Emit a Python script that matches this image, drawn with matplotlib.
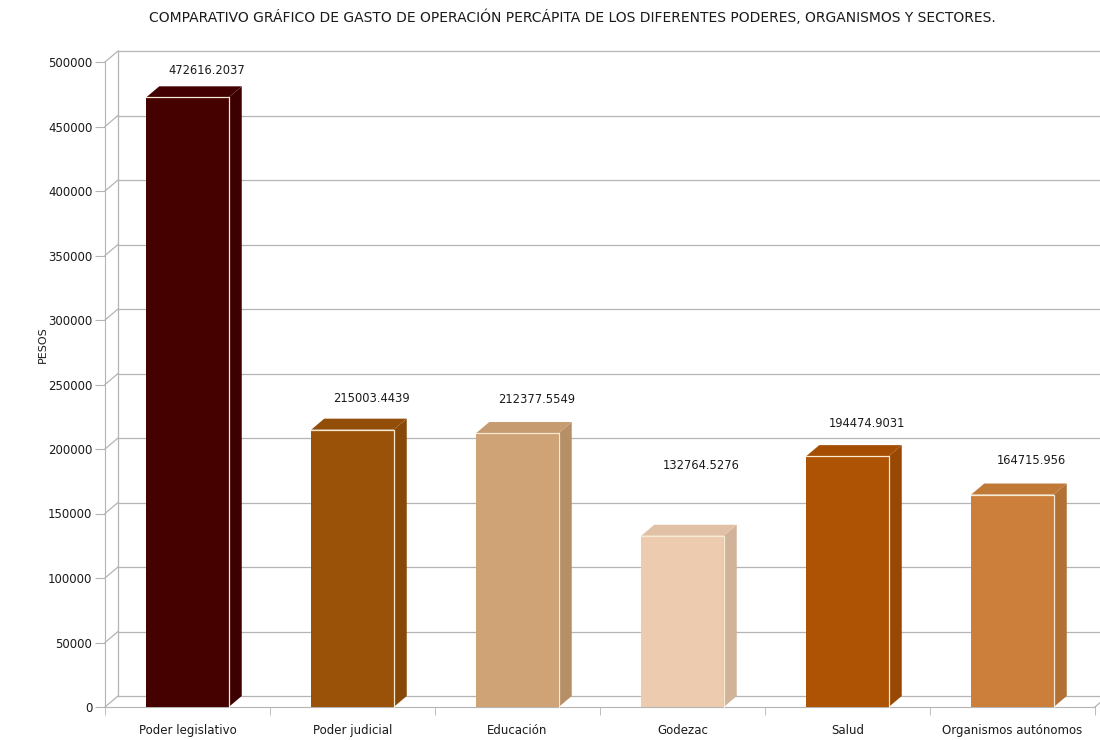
import matplotlib.pyplot as plt
from matplotlib.patches import Polygon
from matplotlib.colors import to_rgb
import numpy as np

categorias = ["Poder legislativo", "Poder judicial", "Educación", "Godezac",
              "Salud", "Organismos autónomos"]
gasto = [472616.2037, 215003.4439, 212377.5549, 132764.5276,
         194474.9031, 164715.956]
etiquetas = ["472616.2037", "215003.4439", "212377.5549", "132764.5276",
             "194474.9031", "164715.956"]
colores = ["#450000", "#9A5209", "#CFA375", "#EDCBAE", "#AE5203", "#CB7F3B"]
ticks_y = np.arange(0, 500001, 50000)

# separacion de las etiquetas sobre cada barra (pixeles)
alto_etiqueta = [27, 31, 34, 70, 33, 34]

plt.rcParams["font.family"] = "DejaVu Sans"


def oscurecer(color, f):
    r, g, b = to_rgb(color)
    return (r * f, g * f, b * f)


fig = plt.figure(figsize=(11, 7.4), dpi=100)
ax = fig.add_axes([105 / 1100, 33 / 740, 990 / 1100, 645 / 740])
ax.set_xlim(-0.5, 5.5)
ax.set_ylim(0, 500000)

# profundidad del efecto 3d en unidades de datos
dx = 13 / 165
dy = 11 / 645 * 500000
gris = "#b4b4b4"

# pared del fondo y piso
for t in ticks_y:
    ax.plot([-0.5 + dx, 5.5 + 0.2], [t + dy, t + dy], color=gris, lw=0.9,
            clip_on=False, zorder=1)
    ax.plot([-0.5, -0.5 + dx], [t, t + dy], color=gris, lw=0.9,
            clip_on=False, zorder=1)
ax.plot([-0.5 + dx, -0.5 + dx], [dy, 500000 + dy], color=gris, lw=0.9,
        clip_on=False, zorder=1)
ax.plot([5.5, 5.5 + dx], [0, dy], color=gris, lw=0.9, clip_on=False, zorder=1)

# barras
ancho = 0.5
for i, (v, c) in enumerate(zip(gasto, colores)):
    x0 = i - ancho / 2
    x1 = i + ancho / 2
    frente = Polygon([[x0, 0], [x1, 0], [x1, v], [x0, v]], closed=True,
                     facecolor=c, edgecolor="none", zorder=3, clip_on=False)
    lado = Polygon([[x1, 0], [x1 + dx, dy], [x1 + dx, v + dy], [x1, v]],
                   closed=True, facecolor=oscurecer(c, 0.88), edgecolor="none",
                   zorder=3, clip_on=False)
    tapa = Polygon([[x0, v], [x1, v], [x1 + dx, v + dy], [x0 + dx, v + dy]],
                   closed=True, facecolor=oscurecer(c, 0.95), edgecolor="none",
                   zorder=3, clip_on=False)
    ax.add_patch(frente)
    ax.add_patch(lado)
    ax.add_patch(tapa)
    ax.plot([x0, x1, x1], [v, v, 0], color="#f6ead2", lw=0.9,
            zorder=4, clip_on=False)
    ax.annotate(etiquetas[i], (i, v), xytext=(19, alto_etiqueta[i]),
                textcoords="offset pixels", ha="center", va="center",
                fontsize=8.3, color="#1a1a1a", zorder=5)

# ejes
for lado_eje in ["top", "right"]:
    ax.spines[lado_eje].set_visible(False)
ax.spines["left"].set_color(gris)
ax.spines["bottom"].set_color(gris)
ax.spines["left"].set_zorder(2)
ax.spines["bottom"].set_zorder(2)

ax.set_yticks(ticks_y)
ax.set_yticklabels([str(t) for t in ticks_y])
ax.tick_params(axis="y", length=7, color=gris, labelsize=8.5, pad=2,
               labelcolor="#1a1a1a")

ax.set_xticks(range(len(categorias)))
ax.set_xticklabels(categorias)
ax.tick_params(axis="x", length=0, labelsize=8.5, pad=12, labelcolor="#1a1a1a")
ax.set_xticks(np.arange(-0.5, 5.6, 1), minor=True)
ax.tick_params(axis="x", which="minor", length=6, color=gris)

fig.text(43 / 1100, 1 - 345 / 740, "PESOS", rotation=90, ha="center",
         va="center", fontsize=8, color="#1a1a1a")
fig.text(572 / 1100, 1 - 17 / 740,
         "COMPARATIVO GRÁFICO DE GASTO DE OPERACIÓN PERCÁPITA DE LOS "
         "DIFERENTES PODERES, ORGANISMOS Y SECTORES.",
         ha="center", va="center", fontsize=10, color="#1a1a1a")

fig.savefig("out.png", dpi=100)
